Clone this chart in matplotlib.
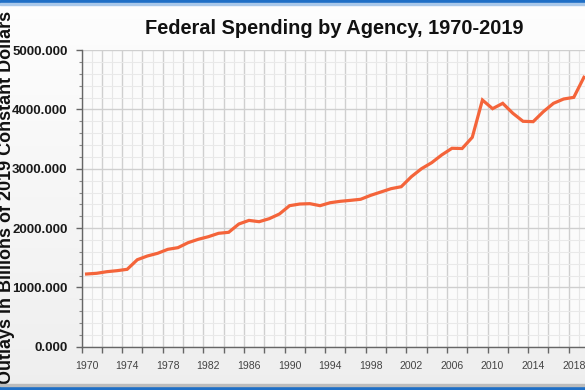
import numpy as np
import matplotlib
matplotlib.use("Agg")
import matplotlib.pyplot as plt
from matplotlib.patches import Rectangle

years = list(range(1970, 2020))
outlays = [1226, 1238, 1265, 1282, 1305, 1467, 1530, 1575, 1642, 1670,
           1754, 1811, 1855, 1912, 1929, 2069, 2130, 2108, 2159, 2238,
           2378, 2406, 2412, 2378, 2428, 2452, 2468, 2486, 2553, 2609,
           2665, 2698, 2867, 3002, 3103, 3235, 3346, 3342, 3531, 4160,
           4014, 4104, 3936, 3801, 3795, 3963, 4104, 4177, 4205, 4543]
xtick_years = list(range(1970, 2019, 4))
yticks = [0, 1000, 2000, 3000, 4000, 5000]
title = "Federal Spending by Agency, 1970-2019"
ylabel = "Outlays in Billions of 2019 Constant Dollars"

plt.rcParams['font.family'] = ['Liberation Sans', 'DejaVu Sans']

W, H = 585, 390
fig = plt.figure(figsize=(W / 100, H / 100), dpi=100)

# background gradient
bg = fig.add_axes([0, 0, 1, 1], zorder=-10)
grad = np.linspace(0.995, 0.935, 256).reshape(-1, 1)
bg.imshow(np.dstack([grad, grad, grad]), aspect='auto', extent=[0, 1, 0, 1],
          interpolation='bicubic')
bg.set_axis_off()

px_per_year = 10.15
left_px, bottom_px, top_px = 81.5, 346.7, 50.2
x0, x1 = 1969.5, 2019.5
ax = fig.add_axes([left_px / W, (H - bottom_px) / H,
                   (x1 - x0) * px_per_year / W, (bottom_px - top_px) / H])
ax.set_facecolor('#fbfbfb')
ax.set_xlim(x0, x1)
ax.set_ylim(0, 5000)

# grid
ax.set_yticks(yticks)
ax.set_yticklabels([f"{v:.3f}" for v in yticks], fontweight='bold',
                   fontsize=9.5, color='#1a1a1a')
ax.set_yticks(np.arange(0, 5001, 200), minor=True)
ax.grid(True, which='major', axis='y', color='#cfcfcf', lw=1.0, zorder=0)
ax.grid(True, which='minor', axis='y', color='#e9e9e9', lw=0.8, zorder=0)

ax.set_xticks(xtick_years)
ax.set_xticklabels([str(y) for y in xtick_years], fontsize=7.6,
                   color='#444444')
ax.set_xticks(np.arange(x0, x1 + 0.01, 2.0), minor=True)
ax.grid(True, which='minor', axis='x', color='#cfcfcf', lw=1.0, zorder=0)
ax.vlines(np.arange(x0 + 1, x1, 2.0), 0, 5000, color='#e6e6e6', lw=0.8,
          zorder=0)

ax.tick_params(axis='x', which='major', length=0, pad=10)
ax.tick_params(axis='x', which='minor', length=4, width=1.0, color='#666666',
               direction='out')
ax.tick_params(axis='y', which='major', length=4, width=1.0, color='#666666',
               pad=6)
ax.tick_params(axis='y', which='minor', length=2.5, width=0.8, color='#888888')

for s in ['top', 'right']:
    ax.spines[s].set_visible(False)
for s in ['left', 'bottom']:
    ax.spines[s].set_color('#666666')
    ax.spines[s].set_linewidth(1.0)

ax.plot(years, outlays, color='#f4643a', lw=2.3, solid_joinstyle='miter',
        zorder=3, clip_on=False)

fig.text(334 / W, 1 - 28.5 / H, title, ha='center', va='center',
         fontsize=14.4, fontweight='bold', color='#111111')
fig.text(7 / W, 1 - 197 / H, ylabel, ha='center', va='center', rotation=90,
         fontsize=13, fontweight='bold', color='#111111')

# blue frame strips
fig.add_artist(Rectangle((0, 1 - 3 / H), 1, 3 / H, transform=fig.transFigure,
                         color='#1f6fc6', zorder=20))
fig.add_artist(Rectangle((0, 1 - 4.5 / H), 1, 1.5 / H, transform=fig.transFigure,
                         color='#a9c8ea', zorder=20))
fig.add_artist(Rectangle((0, 0), 1, 4.5 / H, transform=fig.transFigure,
                         color='#1f6fc6', zorder=20))
fig.add_artist(Rectangle((0, 4.5 / H), 1, 1.2 / H, transform=fig.transFigure,
                         color='#bcbcbc', zorder=20))

fig.savefig('out.png', dpi=100)
